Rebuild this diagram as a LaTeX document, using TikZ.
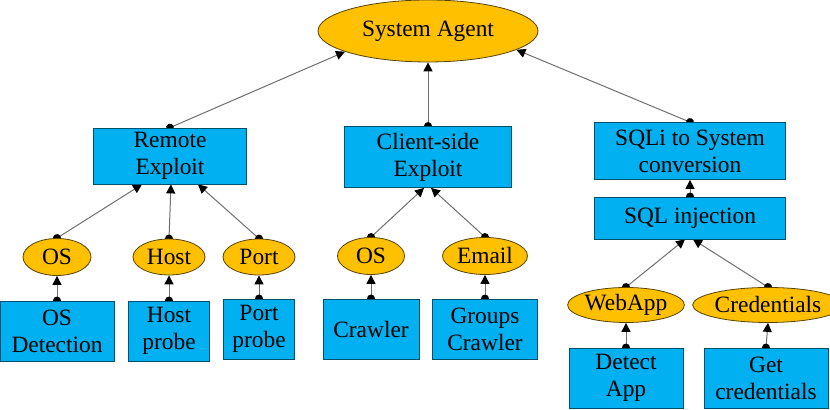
\documentclass[tikz,border=0pt]{standalone}
\usepackage{fontspec}
\setmainfont{Liberation Serif}
\definecolor{boxblue}{RGB}{0,176,240}
\definecolor{goalgold}{RGB}{255,192,0}
\definecolor{linegray}{RGB}{110,110,110}
\usetikzlibrary{arrows.meta, shapes.geometric, backgrounds}

\begin{document}
\begin{tikzpicture}[x=0.5pt, y=-0.5pt,
  task/.style={draw=boxblue!45!black, fill=boxblue, rectangle, inner sep=0pt,
    align=center, font=\fontsize{11.7}{13.5}\selectfont},
  goal/.style={draw=goalgold!35!black, fill=goalgold, ellipse, inner sep=0pt,
    align=center, font=\fontsize{11.7}{13.5}\selectfont},
  dims/.style 2 args={minimum width=#1, minimum height=#2},
  link/.style={{Circle[length=4pt,black]}-{Triangle[length=4.5pt,width=4.5pt,black]},
    linegray, line width=0.5pt, shorten <=-2pt},
]
\useasboundingbox (0,0) rectangle (830,410);

% Top goal
\node[goal, dims={110pt}{31pt}] (agent) at (428,31) {System Agent};

% Attack methods
\node[task, dims={76.5pt}{28pt}] (remote) at (170,156) {Remote\\Exploit};
\node[task, dims={83.5pt}{30.5pt}] (client) at (428,157) {Client-side\\Exploit};
\node[task, dims={95.5pt}{28.5pt}] (sqli) at (690,151) {SQLi to System\\conversion};
\node[task, dims={95.5pt}{21pt}] (sqlinj) at (690,218) {SQL injection};

% Sub goals
\node[goal, dims={34pt}{18.5pt}] (os1) at (57,257) {OS};
\node[goal, dims={36pt}{18pt}] (host) at (169,257) {Host};
\node[goal, dims={36pt}{18pt}] (port) at (259,257) {Port};
\node[goal, dims={33.5pt}{18.5pt}] (os2) at (371,256) {OS};
\node[goal, dims={42.5pt}{18.5pt}] (email) at (485,256) {Email};
\node[goal, dims={54pt}{17.5pt}] (webapp) at (626,305) {WebApp};
\node[goal, dims={60.5pt}{17.5pt}] (cred) at (768,305) {Credentials};

% Leaf tasks
\node[task, dims={57pt}{30pt}] (osdet) at (57,331) {OS\\Detection};
\node[task, dims={40.5pt}{30pt}] (hostp) at (169,331) {Host\\probe};
\node[task, dims={35.5pt}{30pt}] (portp) at (259,329) {Port\\probe};
\node[task, dims={48pt}{30pt}] (crawler) at (371,329) {Crawler};
\node[task, dims={52.5pt}{30pt}] (groups) at (485,329) {Groups\\Crawler};
\node[task, dims={57pt}{30pt}] (detect) at (626,378) {Detect\\App};
\node[task, dims={62pt}{30pt}] (getcred) at (766,378) {Get\\credentials};

% Links
\begin{scope}[on background layer]
\draw[link] (remote.north) -- (agent.194);
\draw[link] (client.north) -- (agent.south);
\draw[link] (sqli.north) -- (agent.-12);
\draw[link] (os1.north) -- ([xshift=-14pt]remote.south);
\draw[link] (host.north) -- ([xshift=0.5pt]remote.south);
\draw[link] (port.north) -- ([xshift=14pt]remote.south);
\draw[link] (os2.north) -- ([xshift=-2pt]client.south);
\draw[link] (email.north) -- ([xshift=1.5pt]client.south);
\draw[link] (sqlinj.north) -- (sqli.south);
\draw[link] (webapp.north) -- ([xshift=-2.5pt]sqlinj.south);
\draw[link] (cred.north) -- ([xshift=1.5pt]sqlinj.south);
\draw[link] (osdet.north) -- (os1.south);
\draw[link] (hostp.north) -- (host.south);
\draw[link] (portp.north) -- (port.south);
\draw[link] (crawler.north) -- (os2.south);
\draw[link] (groups.north) -- (email.south);
\draw[link] (detect.north) -- (webapp.south);
\draw[link] (getcred.north) -- (cred.south);
\end{scope}
\end{tikzpicture}
\end{document}
